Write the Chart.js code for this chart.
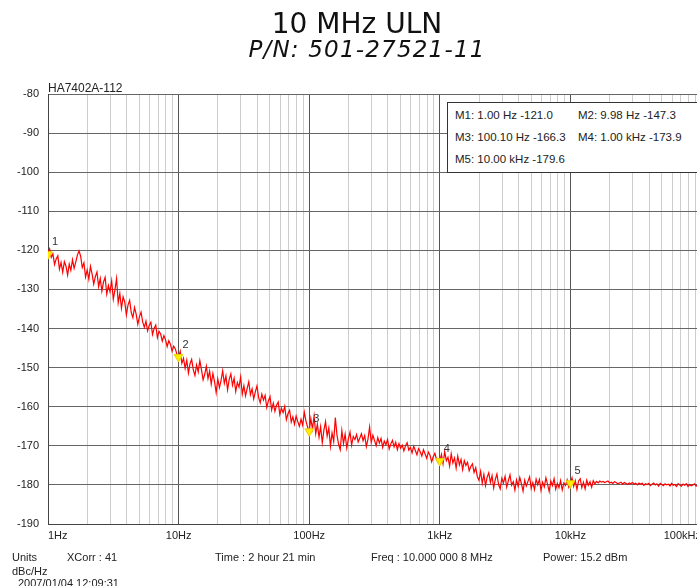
<!DOCTYPE html>
<html>
<head>
<meta charset="utf-8">
<script src="https://cdn.jsdelivr.net/npm/chart.js@4/dist/chart.umd.min.js"></script>
<style>
  html, body { margin: 0; padding: 0; background: #fff; overflow: hidden; width: 697px; height: 586px; }
  #wrap { position: absolute; left: 0; top: 0; width: 720px; height: 586px; }
  .t { position: absolute; font-family: "Liberation Sans", Arial, sans-serif; font-size: 11px; color: #222; white-space: nowrap; line-height: 1; }
  #title1 { position: absolute; left: 0; width: 714px; top: 10px; text-align: center; font-family: "DejaVu Sans", sans-serif; font-size: 28px; color: #111; line-height: 1; }
  #title2 { position: absolute; left: 0; width: 734px; top: 38px; text-align: center; font-family: "DejaVu Sans", sans-serif; font-style: italic; font-size: 23px; letter-spacing: 1.2px; color: #111; line-height: 1; }
  #mbox { position: absolute; left: 447px; top: 102px; width: 260px; height: 69px; border: 1px solid #333; background: #fff; }
</style>
</head>
<body>
<div id="wrap">
  <canvas id="c" width="720" height="586"></canvas>
</div>
<div id="title1">10 MHz ULN</div>
<div id="title2">P/N: 501-27521-11</div>
<div class="t" style="left:48px; top:82px; font-size:12px;">HA7402A-112</div>
<div id="mbox"></div>
<div class="t" style="left:455px; top:110px; font-size:11.5px;">M1: 1.00 Hz -121.0</div>
<div class="t" style="left:578px; top:110px; font-size:11.5px;">M2: 9.98 Hz -147.3</div>
<div class="t" style="left:455px; top:132px; font-size:11.5px;">M3: 100.10 Hz -166.3</div>
<div class="t" style="left:578px; top:132px; font-size:11.5px;">M4: 1.00 kHz -173.9</div>
<div class="t" style="left:455px; top:154px; font-size:11.5px;">M5: 10.00 kHz -179.6</div>
<div class="t" style="left:12px; top:552px;">Units</div>
<div class="t" style="left:67px; top:552px;">XCorr : 41</div>
<div class="t" style="left:215px; top:552px;">Time : 2 hour 21 min</div>
<div class="t" style="left:371px; top:552px;">Freq : 10.000 000 8 MHz</div>
<div class="t" style="left:543px; top:552px;">Power: 15.2 dBm</div>
<div class="t" style="left:12px; top:566px;">dBc/Hz</div>
<div class="t" style="left:18px; top:578px;">2007/01/04 12:09:31</div>
<script>
// ---- data ----
// frequency steps inside one decade (80 per decade)
const mantissa = [1.000, 1.029, 1.059, 1.090, 1.122, 1.155, 1.189, 1.223, 1.259, 1.296,
                  1.334, 1.372, 1.413, 1.454, 1.496, 1.540, 1.585, 1.631, 1.679, 1.728,
                  1.778, 1.830, 1.884, 1.939, 1.995, 2.054, 2.113, 2.175, 2.239, 2.304,
                  2.371, 2.441, 2.512, 2.585, 2.661, 2.738, 2.818, 2.901, 2.985, 3.073,
                  3.162, 3.255, 3.350, 3.447, 3.548, 3.652, 3.758, 3.868, 3.981, 4.097,
                  4.217, 4.340, 4.467, 4.597, 4.732, 4.870, 5.012, 5.158, 5.309, 5.464,
                  5.623, 5.788, 5.957, 6.131, 6.310, 6.494, 6.683, 6.879, 7.079, 7.286,
                  7.499, 7.718, 7.943, 8.175, 8.414, 8.660, 8.913, 9.173, 9.441, 9.716];
const decadeStarts = [1, 10, 100, 1000, 10000];
// phase noise level (dBc/Hz) per decade
const level_1Hz = [-120.5, -119.6, -121.8, -120.9, -123.6, -122.2, -121.4, -124.8, -123.1, -125.6,
                   -122.9, -124.0, -126.3, -123.5, -125.1, -122.4, -124.6, -123.0, -121.2, -120.1,
                   -121.5, -124.4, -123.2, -126.8, -125.0, -127.4, -124.1, -126.0, -128.6, -126.7,
                   -125.5, -129.3, -127.2, -130.4, -128.1, -126.9, -131.2, -129.0, -130.6, -127.8,
                   -132.5, -130.1, -127.2, -133.4, -131.0, -134.8, -131.9, -133.2, -136.5, -134.0,
                   -132.8, -135.9, -137.2, -134.6, -136.3, -138.9, -137.0, -135.8, -138.3, -139.7,
                   -138.1, -140.6, -139.2, -138.4, -141.5, -140.0, -139.1, -142.3, -140.7, -141.4,
                   -143.2, -141.8, -142.9, -144.6, -143.1, -144.0, -145.8, -144.5, -145.2, -146.6];
const level_10Hz = [-147.3, -145.8, -148.9, -147.6, -150.2, -148.1, -151.4, -149.0, -147.9, -150.6,
                    -152.0, -149.3, -151.1, -148.2, -150.5, -153.1, -151.7, -149.6, -152.8, -150.9,
                    -154.2, -151.5, -153.6, -156.4, -152.9, -155.1, -153.3, -150.8, -154.0, -152.1,
                    -155.7, -153.0, -151.6, -154.5, -152.7, -156.1, -153.8, -155.0, -152.4, -156.8,
                    -154.6, -157.2, -155.3, -153.6, -156.9, -155.4, -158.0, -156.2, -154.7, -157.6,
                    -159.0, -156.8, -158.3, -157.1, -160.2, -158.5, -157.4, -160.8, -159.1, -161.2,
                    -159.6, -158.8, -162.0, -160.4, -161.5, -159.9, -163.3, -161.8, -160.9, -163.9,
                    -162.6, -164.5, -162.4, -163.8, -165.0, -163.2, -164.7, -161.4, -163.6, -165.2];
const level_100Hz = [-166.3, -163.0, -165.7, -162.4, -166.9, -164.5, -167.8, -165.1, -169.2, -166.0,
                     -163.8, -167.5, -165.4, -170.1, -166.7, -168.9, -162.8, -167.2, -169.6, -171.0,
                     -166.1, -169.4, -167.0, -170.6, -168.2, -166.5, -169.8, -167.6, -168.4, -167.1,
                     -169.0, -168.0, -166.9, -168.7, -167.4, -170.2, -168.3, -165.2, -169.1, -167.3,
                     -168.6, -170.0, -167.9, -169.3, -168.1, -170.4, -168.8, -169.7, -168.4, -170.8,
                     -169.5, -168.6, -170.3, -169.1, -171.0, -169.4, -170.6, -169.8, -171.3, -170.0,
                     -169.2, -171.1, -170.4, -171.8, -170.1, -171.2, -172.3, -170.7, -171.5, -172.6,
                     -171.0, -172.1, -173.2, -171.6, -172.4, -174.1, -172.8, -171.9, -173.5, -174.3];
const level_1kHz = [-173.9, -172.2, -174.6, -171.5, -173.8, -172.9, -175.2, -172.0, -174.4, -173.1,
                    -175.7, -172.6, -174.9, -173.5, -176.1, -173.8, -175.0, -174.2, -176.4, -175.3,
                    -174.6, -176.8, -175.6, -177.9, -178.8, -176.5, -179.6, -177.3, -180.2, -178.0,
                    -176.9, -179.4, -177.6, -180.8, -178.6, -177.2, -179.9, -181.0, -178.3, -179.5,
                    -177.8, -180.6, -178.9, -177.4, -180.1, -179.2, -181.3, -178.7, -180.4, -178.1,
                    -179.7, -181.6, -178.8, -180.3, -179.1, -177.9, -180.9, -179.4, -181.2, -178.5,
                    -180.0, -178.6, -181.4, -179.3, -180.5, -178.2, -179.8, -181.7, -179.0, -180.2,
                    -178.4, -181.1, -179.6, -180.7, -178.9, -181.3, -179.5, -180.1, -178.7, -180.6];
const level_10kHz = [-179.6, -178.2, -180.4, -178.9, -181.2, -179.0, -178.4, -180.7, -179.3, -181.0,
                     -178.8, -180.1, -179.2, -180.6, -178.9, -179.7, -179.1, -179.5, -179.0, -179.3,
                     -179.1, -179.4, -179.2, -179.0, -179.5, -179.3, -179.6, -179.2, -179.4, -179.7,
                     -179.5, -179.3, -179.8, -179.4, -179.6, -179.9, -179.5, -179.7, -179.4, -179.8,
                     -179.6, -180.0, -179.5, -179.8, -179.6, -180.1, -179.7, -179.9, -179.6, -180.2,
                     -179.8, -179.5, -180.0, -179.7, -180.3, -179.6, -179.9, -180.2, -179.7, -180.0,
                     -179.8, -180.3, -179.6, -180.1, -179.9, -180.4, -179.7, -180.0, -180.3, -179.8,
                     -180.1, -179.7, -180.4, -179.9, -180.2, -180.0, -179.7, -180.3, -180.0, -179.8];
const endFreq = 100000;
const endLevel = -179.8;
const markerFreqs = [1.00, 9.98, 100.10, 1000, 10000];
const markerLevels = [-121.0, -147.3, -166.3, -173.9, -179.6];
const markerNames = ['1', '2', '3', '4', '5'];
const xTickValues = [1,2,3,4,5,6,7,8,9,10,20,30,40,50,60,70,80,90,100,200,300,400,500,600,700,800,900,
                     1000,2000,3000,4000,5000,6000,7000,8000,9000,10000,20000,30000,40000,50000,60000,70000,80000,90000,100000];
const xTickLabels = {1:'1Hz', 10:'10Hz', 100:'100Hz', 1000:'1kHz', 10000:'10kHz', 100000:'100kHz'};
const yMin = -190, yMax = -80;

// ---- build points ----
const levelsByDecade = [level_1Hz, level_10Hz, level_100Hz, level_1kHz, level_10kHz];
const trace = [];
decadeStarts.forEach((d, k) => {
  mantissa.forEach((m, i) => trace.push({x: m * d, y: levelsByDecade[k][i]}));
});
trace.push({x: endFreq, y: endLevel});
const markers = markerFreqs.map((f, i) => ({x: f, y: markerLevels[i]}));

const markerLabels = {
  id: 'markerLabels',
  afterDatasetsDraw(chart) {
    const meta = chart.getDatasetMeta(1);
    const ctx = chart.ctx;
    ctx.save();
    ctx.font = '11px "Liberation Sans", Arial, sans-serif';
    ctx.fillStyle = '#333';
    ctx.textAlign = 'left';
    ctx.textBaseline = 'middle';
    meta.data.forEach((p, i) => ctx.fillText(markerNames[i], p.x + 4, p.y - 12));
    ctx.restore();
  }
};

const isDecade = v => Object.prototype.hasOwnProperty.call(xTickLabels, v);

new Chart(document.getElementById('c'), {
  type: 'scatter',
  data: {
    datasets: [
      { data: trace, showLine: true, borderColor: '#ff0000', borderWidth: 1.2, pointRadius: 0, tension: 0, order: 2 },
      { data: markers, showLine: false, pointStyle: 'triangle', rotation: 180, pointRadius: 5,
        backgroundColor: '#ffee00', borderColor: '#e8d000', borderWidth: 1, order: 1 }
    ]
  },
  options: {
    responsive: false,
    animation: false,
    events: [],
    layout: { padding: { top: 94, left: 0, right: 19, bottom: 0 } },
    plugins: { legend: { display: false }, tooltip: { enabled: false }, title: { display: false } },
    scales: {
      x: {
        type: 'logarithmic',
        min: 1, max: 100000,
        afterBuildTicks: s => { s.ticks = xTickValues.map(v => ({value: v})); },
        afterFit: s => { s.height = 62; },
        ticks: {
          autoSkip: false, maxRotation: 0, align: 'inner',
          font: { family: '"Liberation Sans", Arial, sans-serif', size: 11 }, color: '#222', padding: 5,
          callback: v => xTickLabels[v] || ''
        },
        grid: {
          drawTicks: false,
          color: c => (c.tick && isDecade(c.tick.value)) ? '#555' : '#cdcdcd',
          lineWidth: 1
        },
        border: { color: '#444', width: 1 }
      },
      y: {
        min: yMin, max: yMax,
        afterFit: s => { s.width = 48; },
        ticks: { stepSize: 10, font: { family: '"Liberation Sans", Arial, sans-serif', size: 11 }, color: '#222', padding: 9 },
        grid: { drawTicks: false, color: '#666', lineWidth: 1 },
        border: { color: '#444', width: 1 }
      }
    }
  },
  plugins: [markerLabels]
});
</script>
</body>
</html>
